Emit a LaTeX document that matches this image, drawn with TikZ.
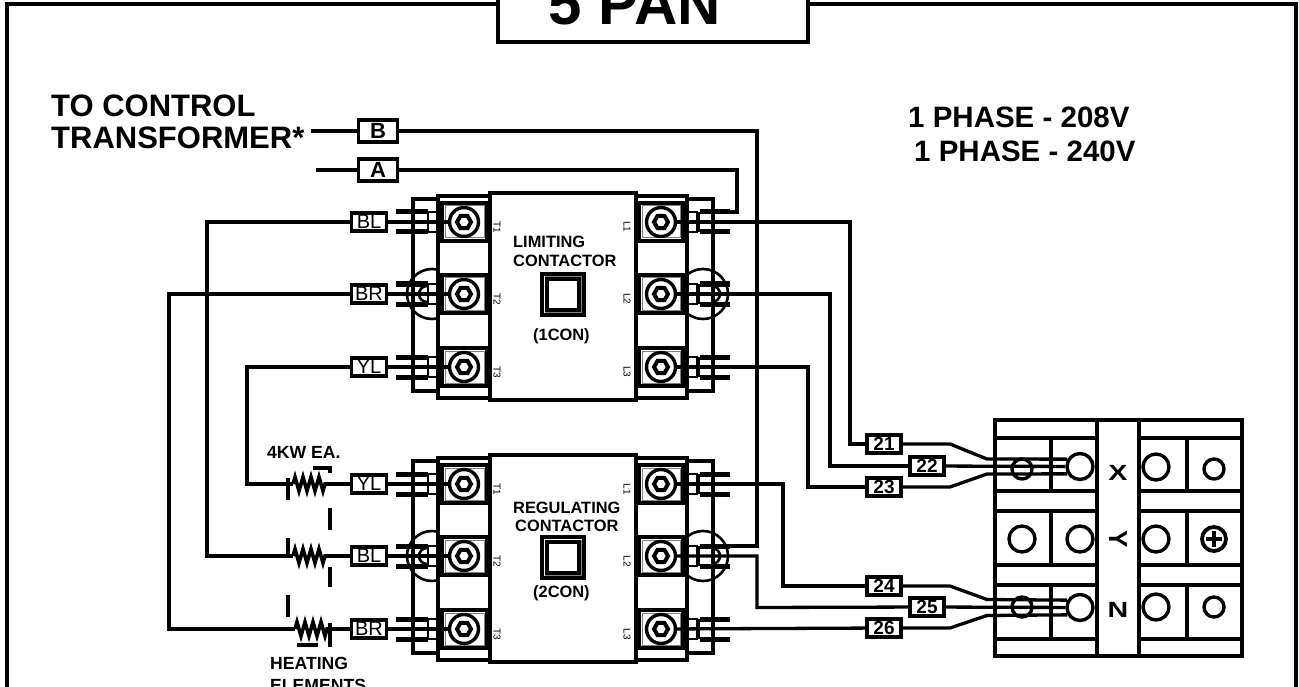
\documentclass[tikz,border=0pt]{standalone}
\usepackage{fontspec}
\setmainfont{Liberation Sans}
\usetikzlibrary{shapes.geometric,decorations.pathmorphing}
\newcommand{\fsize}[1]{\fontsize{#1}{#1}\selectfont}
\tikzset{
  wire/.style={line width=3.3pt,line join=miter},
  frameline/.style={line width=4pt},
  ear/.style={line width=5pt},
  jump/.style={line width=2.6pt},
  lug/.style={circle,draw,line width=3.4pt,minimum size=29pt,inner sep=0pt},
  bolt/.style={regular polygon,regular polygon sides=6,draw,line width=4pt,minimum size=14pt,inner sep=0pt},
  wirelab/.style={draw,fill=white,line width=3.4pt,minimum width=35pt,minimum height=18pt,inner sep=0pt,font=\fsize{20}},
  numlab/.style={draw,fill=white,line width=3.4pt,minimum width=34pt,minimum height=18pt,inner sep=0pt,font=\fsize{19}\bfseries},
  feedlab/.style={draw,fill=white,line width=3.4pt,minimum width=39pt,minimum height=22pt,inner sep=0pt,font=\fsize{22}\bfseries},
  heater/.style={line width=3.6pt,decorate,decoration={zigzag,amplitude=7pt,segment length=8pt}},
  dashbit/.style={line width=3.6pt},
  heading/.style={anchor=base west,inner sep=0pt,font=\fsize{31}\bfseries},
  phase/.style={anchor=base west,inner sep=0pt,font=\fsize{29.5}\bfseries},
  small/.style={anchor=base west,inner sep=0pt,font=\fsize{16.4}\bfseries},
  note/.style={anchor=base west,inner sep=0pt,font=\fsize{17.6}\bfseries},
  pinlab/.style={rotate=-90,inner sep=0pt,font=\fsize{10}},
  blockring/.style={circle,draw,line width=3.4pt,inner sep=0pt,minimum size=#1},
  blockletter/.style={inner sep=0pt,font=\fsize{26}\bfseries}
}
\newcommand{\Contactor}[2]{
  \begin{scope}[shift={(0,#2)}]
    \draw[frameline] (490,193) rectangle (636,400);
    \draw[frameline] (490,196) -- (438,196) -- (438,398) -- (490,398);
    \draw[frameline] (636,196) -- (687,196) -- (687,398) -- (636,398);
    \draw[wire] (438,199) -- (413,199) -- (413,391) -- (438,391);
    \draw[wire] (687,199) -- (713,199) -- (713,391) -- (687,391);
    \foreach \pin/\py in {1/222,2/294,3/367}{
      \draw[wire] (442,\py-19) rectangle (487,\py+19);
      \draw[wire] (639,\py-19) rectangle (683,\py+19);
      \draw[gray,line width=1pt] (445,\py-16) rectangle (484,\py+16);
      \draw[gray,line width=1pt] (642,\py-16) rectangle (680,\py+16);
      \node[lug] (#1T\pin) at (464,\py) {};
      \node[lug] (#1L\pin) at (661,\py) {};
      \node[bolt] (#1TB\pin) at (464,\py) {};
      \node[bolt] (#1LB\pin) at (661,\py) {};
      \node[pinlab] (#1Tlab\pin) at (497,\py+5) {T\pin};
      \node[pinlab] (#1Llab\pin) at (627,\py+5) {L\pin};
      \draw[ear] (396,\py-10) -- (428,\py-10);
      \draw[ear] (396,\py+10) -- (428,\py+10);
      \draw[jump] (428,\py-10) -- (428,\py+10);
      \draw[jump] (428,\py-10) -- (438,\py-10);
      \draw[jump] (428,\py+10) -- (438,\py+10);
      \draw[ear] (700,\py-10) -- (730,\py-10);
      \draw[ear] (700,\py+10) -- (730,\py+10);
      \draw[wire] (698,\py-10) -- (698,\py+10);
      \draw[jump] (687,\py-10) -- (698,\py-10);
      \draw[jump] (687,\py+10) -- (698,\py+10);
      \coordinate (#1E\pin) at (730,\py-10);
    }
    \begin{scope}
      \clip (380,260) rectangle (438,330);
      \draw[jump] (432,294) circle (25pt);
    \end{scope}
    \begin{scope}
      \clip (400,280) rectangle (427,308);
      \draw[jump] (427,294) circle (8pt);
    \end{scope}
    \begin{scope}
      \clip (687,260) rectangle (745,330);
      \draw[jump] (703,294) circle (25pt);
    \end{scope}
    \begin{scope}
      \clip (712,280) rectangle (730,308);
      \draw[jump] (712,294) circle (8pt);
    \end{scope}
  \end{scope}
}
\begin{document}
\begin{tikzpicture}[x=1pt,y=-1pt]
  \useasboundingbox (0,0) rectangle (1299,687);
  \draw[frameline] (498,4) -- (7,4) -- (7,695);
  \draw[frameline] (808,4) -- (1296,4) -- (1296,695);
  \draw[frameline] (498,-5) -- (498,42) -- (808,42) -- (808,-5);
  \node[anchor=base,inner sep=0pt,font=\fsize{60}\bfseries] (title) at (635,25) {5 PAN};

  \node[heading] (ctrlA) at (51,117) {TO CONTROL};
  \node[heading] (ctrlB) at (51,149) {TRANSFORMER*};
  \node[phase] (phaseA) at (908,128) {1 PHASE - 208V};
  \node[phase] (phaseB) at (914,162) {1 PHASE - 240V};

  \Contactor{conA}{0}
  \Contactor{conB}{262}

  \node[small] (limA) at (513,248) {LIMITING};
  \node[small] (limB) at (513,266) {CONTACTOR};
  \node[small] (limC) at (533,340) {(1CON)};
  \node[small] (regA) at (513,513) {REGULATING};
  \node[small] (regB) at (515,531) {CONTACTOR};
  \node[small] (regC) at (533,597) {(2CON)};
  \node[note] (kw) at (267,458) {4KW EA.};
  \node[note] (heatA) at (270,669) {HEATING};
  \node[note] (heatB) at (270,691) {ELEMENTS};
  \draw[line width=4pt] (542,274) rectangle (584,315);
  \draw[gray,line width=1pt] (545,277) rectangle (581,312);
  \draw[line width=3.4pt] (547,279) rectangle (579,310);
  \draw[line width=4pt] (542,537) rectangle (584,578);
  \draw[gray,line width=1pt] (545,540) rectangle (581,575);
  \draw[line width=3.4pt] (547,542) rectangle (579,573);

  \node[feedlab] (B) at (378,131) {B};
  \node[feedlab] (A) at (378,170) {A};
  \coordinate (stubB) at (311,131);
  \coordinate (stubA) at (316,170);
  \node[wirelab] (BL1) at (369,222) {BL};
  \node[wirelab] (BR1) at (369,294) {BR};
  \node[wirelab] (YL1) at (369,367) {YL};
  \node[wirelab] (YL2) at (369,484) {YL};
  \node[wirelab] (BL2) at (369,556) {BL};
  \node[wirelab] (BR2) at (369,629) {BR};
  \node[numlab] (n21) at (884,444) {21};
  \node[numlab] (n22) at (927,466) {22};
  \node[numlab] (n23) at (884,487) {23};
  \node[numlab] (n24) at (884,586) {24};
  \node[numlab] (n25) at (927,607) {25};
  \node[numlab] (n26) at (884,628) {26};

  \draw[frameline] (995,420) rectangle (1242,656);
  \draw[frameline] (1097,420) -- (1097,656);
  \draw[frameline] (1139,420) -- (1139,656);
  \foreach \ry in {438,491,511,565,585,639}{
    \draw[wire] (995,\ry) -- (1097,\ry);
    \draw[wire] (1139,\ry) -- (1242,\ry);
  }
  \foreach \ry/\rz in {438/491,511/565,585/639}{
    \draw[wire] (1051,\ry) -- (1051,\rz);
    \draw[wire] (1187,\ry) -- (1187,\rz);
  }
  \node[blockring=26pt] (X1) at (1080,466.5) {};
  \node[blockring=26pt] (X2) at (1156,467) {};
  \node[blockring=20pt] (X3) at (1022,469) {};
  \node[blockring=20pt] (X4) at (1214,469) {};
  \node[blockring=26pt] (Y1) at (1022,539) {};
  \node[blockring=26pt] (Y2) at (1080,539) {};
  \node[blockring=26pt] (Y3) at (1156,539) {};
  \node[blockring=24pt,line width=3.8pt] (Y4) at (1214,539) {};
  \draw[line width=4.6pt] (1206,539) -- (1222,539);
  \draw[line width=4.6pt] (1214,531) -- (1214,547);
  \node[blockring=26pt] (N1) at (1080,607.5) {};
  \node[blockring=26pt] (N2) at (1156,607) {};
  \node[blockring=20pt] (N3) at (1022,607) {};
  \node[blockring=20pt] (N4) at (1214,607) {};
  \node[blockletter,xscale=1.3,font=\fsize{22}\bfseries] (Xmark) at (1118,473) {X};
  \node[blockletter,rotate=-90] (Ymark) at (1118,539) {Y};
  \node[blockletter,xscale=1.3,font=\fsize{22}\bfseries] (Nmark) at (1118,610) {N};

  \coordinate (bendA) at (737,170);
  \coordinate (bendB) at (757,131);
  \coordinate (bend21) at (850,444);
  \coordinate (bend22) at (830,466);
  \coordinate (bend23) at (808,487);
  \coordinate (bend24) at (783,586);
  \coordinate (bend25) at (757,607.5);
  \coordinate (kneeT) at (950,444);
  \coordinate (kneeU) at (987,459);
  \coordinate (kneeV) at (950,487);
  \coordinate (kneeW) at (987,474);
  \coordinate (kneeX) at (950,586);
  \coordinate (kneeY) at (987,599.5);
  \coordinate (kneeZ) at (950,628);
  \coordinate (kneeQ) at (987,615.5);

  \draw[wire] (stubB) -- (B);
  \draw[wire] (stubA) -- (A);
  \draw[wire] (B) -- (bendB) |- (conBE2);
  \draw[wire] (A) -- (bendA) |- (conAE1);
  \draw[wire] (BL1) -- (conAT1);
  \draw[wire] (BR1) -- (conAT2);
  \draw[wire] (YL1) -- (conAT3);
  \draw[wire] (YL2) -- (conBT1);
  \draw[wire] (BL2) -- (conBT2);
  \draw[wire] (BR2) -- (conBT3);
  \draw[wire] (conAL1) -| (bend21) -- (n21);
  \draw[wire] (conAL2) -| (bend22) -- (n22);
  \draw[wire] (conAL3) -| (bend23) -- (n23);
  \draw[wire] (conBL1) -| (bend24) -- (n24);
  \draw[wire] (conBL2) -| (bend25) -- (n25);
  \draw[wire] (conBL3) -- (n26);
  \draw[wire] (n21) -- (kneeT) -- (kneeU) -- (X1.150);
  \draw[wire] (n22) -- (X1);
  \draw[wire] (n23) -- (kneeV) -- (kneeW) -- (X1.210);
  \draw[wire] (n24) -- (kneeX) -- (kneeY) -- (N1.150);
  \draw[wire] (n25) -- (N1);
  \draw[wire] (n26) -- (kneeZ) -- (kneeQ) -- (N1.210);

  \coordinate (hAin) at (293,484);
  \coordinate (hAout) at (326,484);
  \coordinate (hBin) at (293,556);
  \coordinate (hBout) at (326,556);
  \coordinate (hCin) at (295,629);
  \coordinate (hCout) at (328,629);
  \coordinate (bendYL) at (247,484);
  \coordinate (bendBL) at (207,556);
  \coordinate (bendBR) at (169,629);
  \draw[wire] (YL1) -| (bendYL) -- (hAin);
  \draw[wire] (BL1) -| (bendBL) -- (hBin);
  \draw[wire] (BR1) -| (bendBR) -- (hCin);
  \draw[wire] (hAout) -- (YL2);
  \draw[wire] (hBout) -- (BL2);
  \draw[wire] (hCout) -- (BR2);
  \draw[heater] (hAin) -- (hAout);
  \draw[heater] (hBin) -- (hBout);
  \draw[heater] (hCin) -- (hCout);

  \draw[dashbit] (313,468) -- (330,468) -- (330,473);
  \draw[dashbit] (288,478) -- (288,500);
  \draw[dashbit] (330,508) -- (330,530);
  \draw[dashbit] (288,538) -- (288,555);
  \draw[dashbit] (330,567) -- (330,587);
  \draw[dashbit] (288,595) -- (288,617);
  \draw[dashbit] (330,623) -- (330,647);
  \draw[dashbit] (297,645) -- (318,645);
\end{tikzpicture}
\end{document}
